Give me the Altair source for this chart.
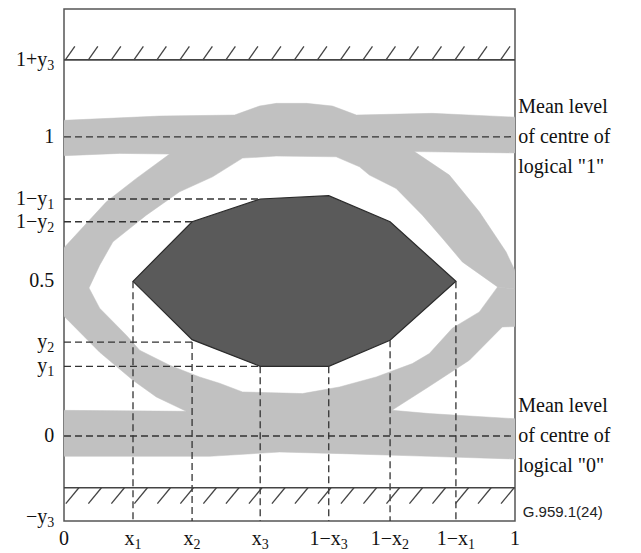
import altair as alt
import pandas as pd

# ---------------- data (x: fraction of unit interval, y: signal level) ----------------
Y_MIN, Y_MAX = -0.284, 1.427          # extent of the mask frame
Y_TOP_LIMIT, Y_BOT_LIMIT = 1.257, -0.173

x_ticks = [0.0, 0.153, 0.284, 0.435, 0.587, 0.723, 0.869, 1.0]
x_main = ["0", "x", "x", "x", "1−x", "1−x", "1−x", "1"]
x_sub = ["", "1", "2", "3", "3", "2", "1", ""]
x_kind = ["plain", "x", "x", "x", "1mx", "1mx", "1mx", "plain"]

y_ticks = [1.257, 1.0, 0.792, 0.716, 0.517, 0.314, 0.233, 0.0, -0.272]
y_main = ["1+y", "1", "1−y", "1−y", "0.5", "y", "y", "0", "−y"]
y_sub = ["3", "", "1", "2", "", "2", "1", "", "3"]

# eye mask (dark polygon)
mask_x = [0.153, 0.284, 0.435, 0.587, 0.723, 0.869]
mask_upper = [0.517, 0.716, 0.792, 0.803, 0.716, 0.517]
mask_lower = [0.517, 0.322, 0.233, 0.233, 0.320, 0.517]

# eye traces, upper half with logical "1" band
upper_x = [-0.0206, -0.0206, 0.0939, 0.1604, 0.2342, 0.1234, -0.0206, -0.0206, 0.2120, 0.3782,
           0.4335, 0.4712, 0.5377, 0.5953, 0.6484, 0.8168, 1.0206, 1.0206, 0.7769, 0.8544,
           0.9209, 0.9801, 1.0206, 0.9614, 0.8832, 0.8389, 0.7946, 0.7364, 0.6772, 0.6551,
           0.6034, 0.4705, 0.3959, 0.3294, 0.2563, 0.1825, 0.1085, 0.0791, 0.0554]
upper_y = [0.4940, 0.5957, 0.7826, 0.8609, 0.9421, 0.9445, 0.9355, 1.0535, 1.0692, 1.0726,
           1.1027, 1.1117, 1.1117, 1.1027, 1.0726, 1.0783, 1.0642, 0.9455, 0.9505, 0.8719,
           0.7492, 0.6154, 0.4873, 0.4983, 0.5819, 0.6612, 0.7381, 0.8274, 0.8719, 0.8997,
           0.9331, 0.9355, 0.9288, 0.8662, 0.8161, 0.7381, 0.6488, 0.5709, 0.4950]
# eye traces, lower half with logical "0" band
lower_x = [-0.0206, 0.0554, 0.0791, 0.1382, 0.1677, 0.2342, 0.3006, 0.3449, 0.3959, 0.5288,
           0.6108, 0.6921, 0.7725, 0.8101, 0.8610, 0.9209, 0.9614, 1.0206, 1.0206, 0.9719,
           0.8988, 0.8079, 0.7271, 0.8101, 1.0206, 1.0206, 0.8101, 0.6174, 0.4778, 0.3228,
           -0.0206, -0.0206, 0.2712, 0.2047, 0.1529, 0.0791, -0.0206]
lower_y = [0.4940, 0.4950, 0.4271, 0.3368, 0.2866, 0.2365, 0.1973, 0.1763, 0.1472, 0.1418,
           0.1639, 0.1973, 0.2421, 0.2756, 0.3602, 0.4147, 0.4983, 0.4873, 0.3669, 0.3645,
           0.2532, 0.1639, 0.0860, 0.0749, 0.0559, -0.0779, -0.0679, -0.0589, -0.0535, -0.0679,
           -0.0679, 0.0860, 0.0826, 0.1304, 0.1863, 0.2799, 0.4318]

# hatching of the forbidden zones
hatch_top_x = [0.003, 0.054, 0.105, 0.155, 0.206, 0.257, 0.308, 0.359, 0.409, 0.460,
               0.511, 0.562, 0.613, 0.663, 0.714, 0.765, 0.816, 0.867, 0.917, 0.968]
hatch_bot_x = [0.033, 0.083, 0.134, 0.185, 0.236, 0.287, 0.338, 0.388, 0.439, 0.490,
               0.541, 0.592, 0.643, 0.693, 0.744, 0.795, 0.846, 0.897, 0.947, 0.998]

note_y = [1.0, 0.0]
note_text = ["Mean level\nof centre of\nlogical \"1\"", "Mean level\nof centre of\nlogical \"0\""]

# ---------------- tables ----------------
traces = pd.concat([
    pd.DataFrame({"poly": "upper", "i": range(len(upper_x)), "x": upper_x, "y": upper_y}),
    pd.DataFrame({"poly": "lower", "i": range(len(lower_x)), "x": lower_x, "y": lower_y}),
])
mask = pd.DataFrame({"x": mask_x, "top": mask_upper, "bot": mask_lower})

dashed = pd.DataFrame({
    "x0": [0, 0, 0, 0, 0, 0] + mask_x,
    "x1": [1, 1, mask_x[2], mask_x[1], mask_x[1], mask_x[2]] + mask_x,
    "y0": [1.0, 0.0, y_ticks[2], y_ticks[3], y_ticks[5], y_ticks[6]]
          + [mask_lower[0], y_ticks[5], y_ticks[6], y_ticks[6], mask_lower[4], mask_lower[5]],
    "y1": [1.0, 0.0, y_ticks[2], y_ticks[3], y_ticks[5], y_ticks[6]] + [Y_MIN] * 6,
})
limits = pd.DataFrame({"x0": [0, 0], "x1": [1, 1], "y0": [Y_TOP_LIMIT, Y_BOT_LIMIT]})
hatch = pd.DataFrame({
    "x0": hatch_top_x + hatch_bot_x,
    "x1": [v + 0.021 for v in hatch_top_x] + [v - 0.029 for v in hatch_bot_x],
    "y0": [Y_TOP_LIMIT] * len(hatch_top_x) + [Y_BOT_LIMIT] * len(hatch_bot_x),
    "y1": [1.3025] * len(hatch_top_x) + [-0.226] * len(hatch_bot_x),
})
ylab = pd.DataFrame({"y": y_ticks, "main": y_main, "sub": y_sub, "x": -0.0215})
xlab = pd.DataFrame({"x": x_ticks, "main": x_main, "sub": x_sub, "kind": x_kind, "y": -0.343})
notes = pd.DataFrame({"y": note_y, "text": note_text, "x": 1.0073})
code = pd.DataFrame({"x": [1.0171], "y": [-0.254], "text": ["G.959.1(24)"]})

# ---------------- chart ----------------
xs = alt.Scale(domain=[0, 1], nice=False, zero=False)
ys = alt.Scale(domain=[Y_MIN, Y_MAX], nice=False, zero=False)


def X(f):
    return alt.X(f, type="quantitative", scale=xs, axis=None)


def Y(f):
    return alt.Y(f, type="quantitative", scale=ys, axis=None)


SERIF = "Liberation Serif"
INK = "#111111"

gray = alt.Chart(traces).mark_line(
    fill="#c1c1c1", stroke="#c1c1c1", strokeWidth=0.5, clip=True
).encode(x=X("x"), y=Y("y"), order="i:Q", detail="poly:N")

mask_layer = alt.Chart(mask).mark_area(
    color="#5a5a5a", stroke="#2b2b2b", strokeWidth=1.2
).encode(x=X("x"), y=Y("top"), y2="bot:Q")

dash_layer = alt.Chart(dashed).mark_rule(
    color="#333333", strokeWidth=1.3, strokeDash=[7, 4]
).encode(x=X("x0"), x2="x1:Q", y=Y("y0"), y2="y1:Q")

limit_layer = alt.Chart(limits).mark_rule(color="#444444", strokeWidth=1.6).encode(
    x=X("x0"), x2="x1:Q", y=Y("y0"))

hatch_layer = alt.Chart(hatch).mark_rule(color="#444444", strokeWidth=1.3).encode(
    x=X("x0"), x2="x1:Q", y=Y("y0"), y2="y1:Q")

ybase = alt.Chart(ylab)
y_plain = ybase.transform_filter("datum.sub == ''").mark_text(
    align="right", baseline="middle", font=SERIF, fontSize=20, color=INK
).encode(x=X("x"), y=Y("y"), text="main:N")
y_main_l = ybase.transform_filter("datum.sub != ''").mark_text(
    align="right", baseline="middle", font=SERIF, fontSize=20, color=INK, dx=-7
).encode(x=X("x"), y=Y("y"), text="main:N")
y_sub_l = ybase.transform_filter("datum.sub != ''").mark_text(
    align="right", baseline="middle", font=SERIF, fontSize=14, color=INK, dy=6
).encode(x=X("x"), y=Y("y"), text="sub:N")

xbase = alt.Chart(xlab)
x_plain = xbase.transform_filter("datum.kind == 'plain'").mark_text(
    align="center", baseline="middle", font=SERIF, fontSize=20, color=INK
).encode(x=X("x"), y=Y("y"), text="main:N")
x_main1 = xbase.transform_filter("datum.kind == 'x'").mark_text(
    align="right", baseline="middle", font=SERIF, fontSize=20, color=INK, dx=1.5
).encode(x=X("x"), y=Y("y"), text="main:N")
x_sub1 = xbase.transform_filter("datum.kind == 'x'").mark_text(
    align="left", baseline="middle", font=SERIF, fontSize=14, color=INK, dx=1.5, dy=6
).encode(x=X("x"), y=Y("y"), text="sub:N")
x_main2 = xbase.transform_filter("datum.kind == '1mx'").mark_text(
    align="right", baseline="middle", font=SERIF, fontSize=20, color=INK, dx=12
).encode(x=X("x"), y=Y("y"), text="main:N")
x_sub2 = xbase.transform_filter("datum.kind == '1mx'").mark_text(
    align="left", baseline="middle", font=SERIF, fontSize=14, color=INK, dx=12, dy=6
).encode(x=X("x"), y=Y("y"), text="sub:N")

note_layer = alt.Chart(notes).mark_text(
    align="left", baseline="middle", font=SERIF, fontSize=20, color=INK,
    lineBreak="\n", lineHeight=30, dy=-30
).encode(x=X("x"), y=Y("y"), text="text:N")

code_layer = alt.Chart(code).mark_text(
    align="left", baseline="middle", font="Liberation Sans", fontSize=15, color="#222222"
).encode(x=X("x"), y=Y("y"), text="text:N")

chart = alt.layer(
    gray, mask_layer, dash_layer, limit_layer, hatch_layer,
    y_plain, y_main_l, y_sub_l, x_plain, x_main1, x_sub1, x_main2, x_sub2,
    note_layer, code_layer,
).properties(
    width=451, height=512,
    autosize=alt.AutoSizeParams(type="none"),
    padding={"left": 56, "top": 1, "right": 117, "bottom": 32},
    background="white",
).configure_view(stroke="#555555", strokeWidth=1.5)

chart.save("out.html", embed_options={"renderer": "svg", "actions": False})
